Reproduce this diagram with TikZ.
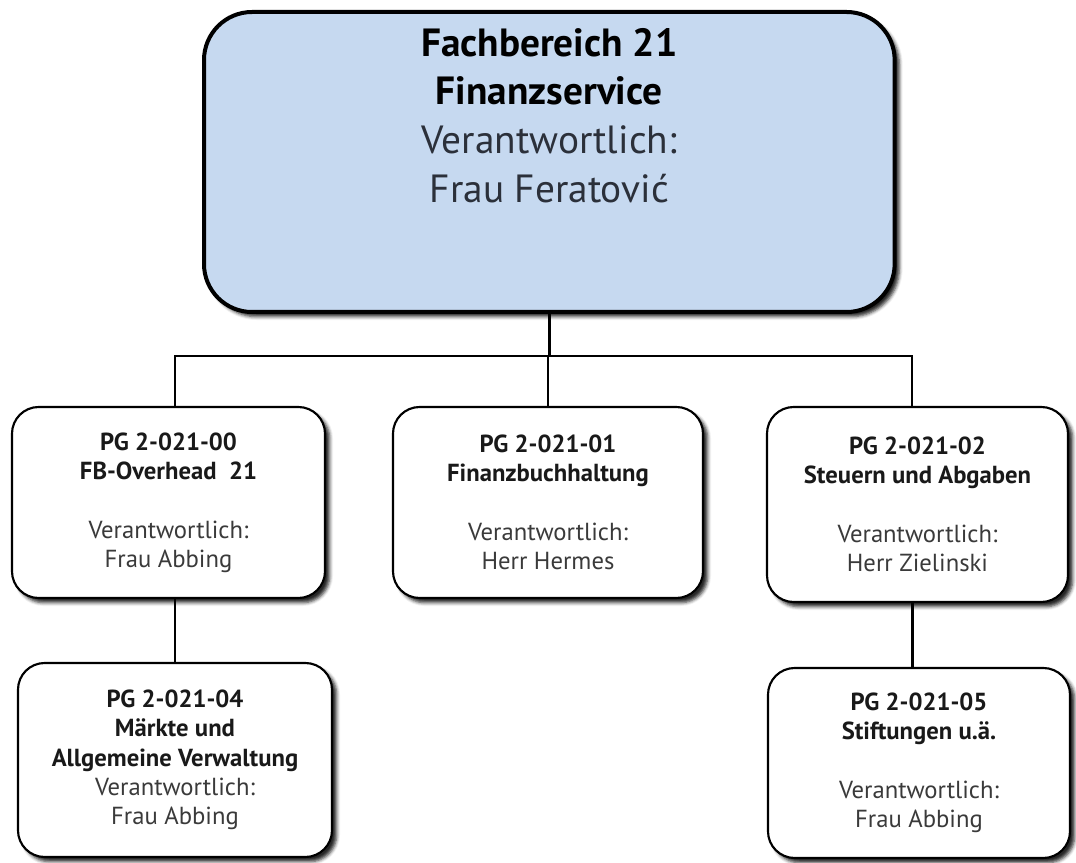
\documentclass[tikz,border=0pt]{standalone}
\usepackage{fontspec}
\setmainfont{PT Sans}
\usetikzlibrary{shadows.blur}
\definecolor{topblue}{HTML}{C6D9F0}
\definecolor{gtext}{HTML}{3A3A3A}
\definecolor{ttext}{HTML}{2B303A}
\begin{document}
\begin{tikzpicture}[x=0.75pt,y=-0.75pt,
  shad/.style={blur shadow={shadow xshift=3.5pt,shadow yshift=-3.5pt,shadow opacity=85,shadow blur radius=2.5pt}},
  topbox/.style={draw=black, line width=3pt, rounded corners=36pt, fill=topblue, shad,
    inner sep=0pt, anchor=north west},
  pgbox/.style={draw=black, line width=1.6pt, rounded corners=20pt, fill=white, shad,
    inner sep=0pt, align=center, text=black!90, font=\fontsize{18.5}{22}\selectfont},
  conn/.style={line width=1.9pt, draw=black}]
\useasboundingbox (0,0) rectangle (1076,863);

\node[topbox] (top) at (202,10) {\parbox[c][225pt][t]{518pt}{\centering\vspace*{12pt}%
  \fontsize{29.5}{36.5}\selectfont
  \textbf{Fachbereich 21}\\
  \textbf{Finanzservice}\\
  \textcolor{ttext}{Verantwortlich:}\\
  \textcolor{ttext}{Frau Feratović}\par}};

\node[pgbox, minimum width=234.75pt, minimum height=143.25pt] (b1) at (168.5,502.5)
  {\textbf{PG 2-021-00}\\ \textbf{FB-Overhead\ \ 21}\\[22pt]
   \textcolor{gtext}{Verantwortlich:}\\ \textcolor{gtext}{Frau Abbing}};
\node[pgbox, minimum width=232.5pt, minimum height=143.25pt] (b2) at (548,502.5)
  {\textbf{PG 2-021-01}\\ \textbf{Finanzbuchhaltung}\\[22pt]
   \textcolor{gtext}{Verantwortlich:}\\ \textcolor{gtext}{Herr Hermes}};
\node[pgbox, minimum width=225.75pt, minimum height=146.25pt] (b3) at (917.5,504.5)
  {\textbf{PG 2-021-02}\\ \textbf{Steuern und Abgaben}\\[22pt]
   \textcolor{gtext}{Verantwortlich:}\\ \textcolor{gtext}{Herr Zielinski}};
\node[pgbox, minimum width=235.5pt, minimum height=145.5pt] (b4) at (175,760)
  {\textbf{PG 2-021-04}\\ \textbf{Märkte und}\\ \textbf{Allgemeine Verwaltung}\\
   \textcolor{gtext}{Verantwortlich:}\\ \textcolor{gtext}{Frau Abbing}};
\node[pgbox, minimum width=226.5pt, minimum height=142.5pt] (b5) at (919,763)
  {\textbf{PG 2-021-05}\\ \textbf{Stiftungen u.ä.}\\[22pt]
   \textcolor{gtext}{Verantwortlich:}\\ \textcolor{gtext}{Frau Abbing}};

\coordinate (bus) at (546,356);
\draw[conn] (top.south) -- (top.south |- bus);
\draw[conn] ([xshift=5pt]b1.north) |- ([xshift=-4pt]b3.north |- bus) -- ([xshift=-4pt]b3.north);
\draw[conn] (b2.north) -- (b2.north |- bus);
\draw[conn] (b4.north) -- (b4.north |- b1.south);
\draw[conn] ([xshift=-5pt]b5.north) -- ([xshift=-5pt]b5.north |- b3.south);
\end{tikzpicture}
\end{document}
